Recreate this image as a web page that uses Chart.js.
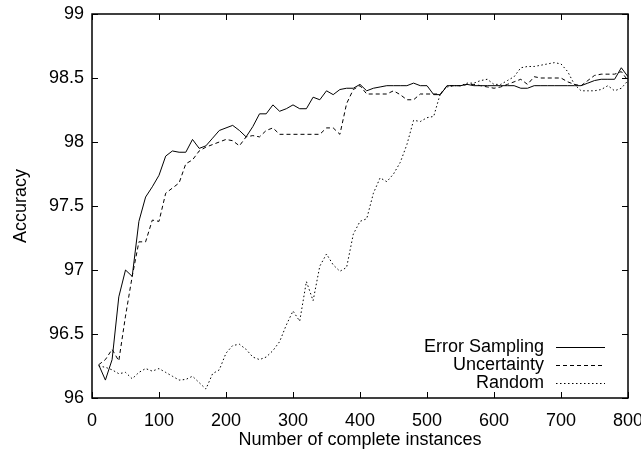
<!DOCTYPE html>
<html>
<head>
<meta charset="utf-8">
<script src="https://cdn.jsdelivr.net/npm/chart.js@4.4.1/dist/chart.umd.min.js"></script>
<style>
  html, body { margin: 0; padding: 0; background: #fff; }
  canvas { display: block; }
</style>
</head>
<body>
<canvas id="accuracyChart" width="641" height="455"></canvas>
<script>
// number of complete instances (x)
const instances = [10, 20, 30, 40, 50, 60, 70, 80, 90, 100,
  110, 120, 130, 140, 150, 160, 170, 180, 190, 200,
  210, 220, 230, 240, 250, 260, 270, 280, 290, 300,
  310, 320, 330, 340, 350, 360, 370, 380, 390, 400,
  410, 420, 430, 440, 450, 460, 470, 480, 490, 500,
  510, 520, 530, 540, 550, 560, 570, 580, 590, 600,
  610, 620, 630, 640, 650, 660, 670, 680, 690, 700,
  710, 720, 730, 740, 750, 760, 770, 780, 790, 800];

const errorSampling = [96.26, 96.14, 96.30, 96.79, 97.00, 96.95, 97.38, 97.57, 97.65, 97.74,
  97.89, 97.93, 97.92, 97.92, 98.02, 97.95, 97.97, 98.03, 98.09, 98.11,
  98.13, 98.09, 98.04, 98.12, 98.22, 98.22, 98.29, 98.24, 98.26, 98.29,
  98.26, 98.26, 98.35, 98.33, 98.40, 98.37, 98.41, 98.42, 98.42, 98.45,
  98.40, 98.42, 98.43, 98.44, 98.44, 98.44, 98.44, 98.46, 98.44, 98.44,
  98.37, 98.37, 98.44, 98.44, 98.44, 98.45, 98.44, 98.44, 98.44, 98.44,
  98.44, 98.44, 98.44, 98.42, 98.42, 98.44, 98.44, 98.44, 98.44, 98.44,
  98.44, 98.44, 98.44, 98.46, 98.48, 98.49, 98.49, 98.49, 98.58, 98.51];

const uncertainty = [96.26, 96.30, 96.38, 96.29, 96.64, 96.95, 97.22, 97.22, 97.39, 97.38,
  97.60, 97.64, 97.68, 97.83, 97.86, 97.93, 97.96, 97.98, 98.00, 98.02,
  98.01, 97.97, 98.04, 98.05, 98.04, 98.09, 98.11, 98.06, 98.06, 98.06,
  98.06, 98.06, 98.06, 98.06, 98.11, 98.11, 98.06, 98.30, 98.41, 98.44,
  98.375, 98.375, 98.375, 98.375, 98.40, 98.37, 98.33, 98.33, 98.375, 98.375,
  98.375, 98.375, 98.44, 98.44, 98.44, 98.45, 98.45, 98.44, 98.43, 98.42,
  98.43, 98.45, 98.47, 98.49, 98.45, 98.51, 98.50, 98.50, 98.50, 98.50,
  98.47, 98.45, 98.44, 98.48, 98.52, 98.53, 98.53, 98.53, 98.55, 98.48];

const random = [96.25, 96.24, 96.22, 96.19, 96.20, 96.15, 96.20, 96.23, 96.21, 96.23,
  96.20, 96.17, 96.14, 96.145, 96.17, 96.12, 96.07, 96.19, 96.22, 96.35,
  96.41, 96.42, 96.38, 96.32, 96.30, 96.32, 96.37, 96.44, 96.57, 96.68,
  96.60, 96.91, 96.76, 97.03, 97.125, 97.04, 96.99, 97.02, 97.28, 97.38,
  97.40, 97.60, 97.72, 97.69, 97.75, 97.84, 97.98, 98.17, 98.16, 98.19,
  98.20, 98.38, 98.43, 98.44, 98.44, 98.46, 98.46, 98.48, 98.49, 98.45,
  98.45, 98.48, 98.51, 98.58, 98.59, 98.59, 98.60, 98.61, 98.62, 98.61,
  98.55, 98.45, 98.40, 98.40, 98.40, 98.41, 98.44, 98.40, 98.42, 98.48];

const seriesNames = ['Error Sampling', 'Uncertainty', 'Random'];

const FONT = 'Liberation Sans, Arial, Helvetica, sans-serif';
const FSIZE = 18;

function toPoints(ys) {
  return ys.map((y, i) => ({ x: instances[i], y: y }));
}

// gnuplot style frame, inward ticks and the legend in the lower right corner
const gnuplotFrame = {
  id: 'gnuplotFrame',
  afterDraw(chart) {
    const ctx = chart.ctx;
    const a = chart.chartArea;
    const xs = chart.scales.x;
    const ys = chart.scales.y;
    const len = 6;
    ctx.save();
    ctx.strokeStyle = '#000';
    ctx.lineWidth = 1;
    ctx.setLineDash([]);
    ctx.beginPath();
    xs.ticks.forEach(t => {
      const px = Math.round(xs.getPixelForValue(t.value)) + 0.5;
      ctx.moveTo(px, a.bottom); ctx.lineTo(px, a.bottom - len);
      ctx.moveTo(px, a.top); ctx.lineTo(px, a.top + len);
    });
    ys.ticks.forEach(t => {
      const py = Math.round(ys.getPixelForValue(t.value)) + 0.5;
      ctx.moveTo(a.left, py); ctx.lineTo(a.left + len, py);
      ctx.moveTo(a.right, py); ctx.lineTo(a.right - len, py);
    });
    ctx.stroke();
    ctx.lineWidth = 1.5;
    ctx.strokeRect(a.left, a.top, a.right - a.left, a.bottom - a.top);

    // legend
    ctx.font = FSIZE + 'px ' + FONT;
    ctx.fillStyle = '#000';
    ctx.textAlign = 'right';
    ctx.textBaseline = 'middle';
    const textRight = a.right - 84;
    const lineX0 = a.right - 72;
    const lineX1 = a.right - 23;
    chart.data.datasets.forEach((ds, i) => {
      const y = a.bottom - 51 + i * 18;
      ctx.fillText(ds.label, textRight, y);
      ctx.lineWidth = ds.borderWidth;
      ctx.setLineDash(ds.borderDash || []);
      ctx.beginPath();
      ctx.moveTo(lineX0, y + 0.5);
      ctx.lineTo(lineX1, y + 0.5);
      ctx.stroke();
    });
    ctx.restore();
  }
};

const ctx = document.getElementById('accuracyChart').getContext('2d');
new Chart(ctx, {
  type: 'line',
  data: {
    datasets: [
      { label: seriesNames[0], data: toPoints(errorSampling), borderColor: '#000', borderWidth: 1, borderDash: [] },
      { label: seriesNames[1], data: toPoints(uncertainty), borderColor: '#000', borderWidth: 1, borderDash: [4, 3] },
      { label: seriesNames[2], data: toPoints(random), borderColor: '#000', borderWidth: 1, borderDash: [1.5, 2.5] }
    ]
  },
  options: {
    responsive: false,
    animation: false,
    devicePixelRatio: 1,
    layout: { padding: { top: 14, right: 13, left: 0, bottom: 0 } },
    elements: { point: { radius: 0 }, line: { tension: 0, fill: false } },
    plugins: { legend: { display: false }, tooltip: { enabled: false } },
    scales: {
      x: {
        type: 'linear',
        min: 0, max: 800,
        afterFit(scale) { scale.height = 57; scale.paddingLeft = 0; scale.paddingRight = 0; },
        grid: { display: false, drawTicks: false },
        border: { display: false },
        ticks: { stepSize: 100, color: '#000', padding: 12, font: { family: FONT, size: FSIZE } },
        title: { display: true, text: 'Number of complete instances', color: '#000', padding: { top: 1 }, font: { family: FONT, size: FSIZE } }
      },
      y: {
        min: 96, max: 99,
        afterFit(scale) { scale.width = 92; scale.paddingTop = 0; scale.paddingBottom = 0; },
        grid: { display: false, drawTicks: false },
        border: { display: false },
        ticks: {
          stepSize: 0.5, color: '#000', padding: 8, font: { family: FONT, size: FSIZE },
          callback: v => String(Math.round(v * 10) / 10)
        },
        title: { display: true, text: 'Accuracy', color: '#000', padding: { top: 10, bottom: 0 }, font: { family: FONT, size: FSIZE } }
      }
    }
  },
  plugins: [gnuplotFrame]
});
</script>
</body>
</html>
